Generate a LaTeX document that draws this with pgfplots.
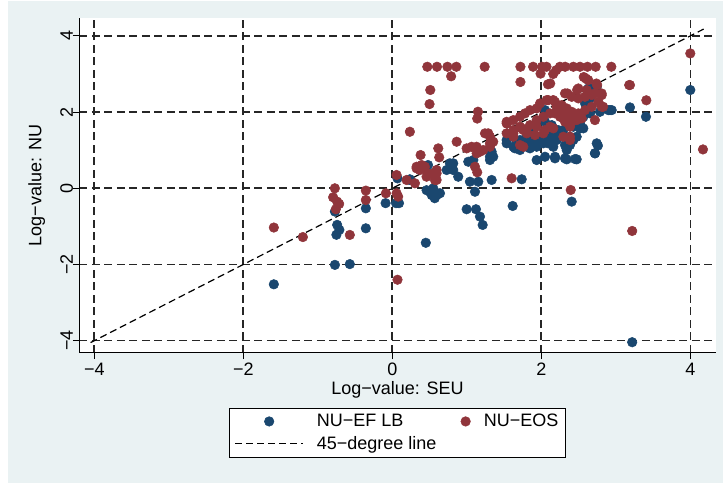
\documentclass[border=0pt]{standalone}
\usepackage{pgfplots}
\pgfplotsset{compat=1.18}
\usetikzlibrary{backgrounds,calc}
\usepackage{fontspec}
\setmainfont{Liberation Sans}
\definecolor{snavy}{RGB}{26,71,111}
\definecolor{smaroon}{RGB}{144,53,59}
\definecolor{sbg}{RGB}{234,242,243}
\pgfplotsset{
  widemark/.style={legend image code/.code={\path (0pt,-5pt) (68pt,5pt); \draw[##1] plot coordinates {(34pt,0pt)};}},
  narrowmark/.style={legend image code/.code={\path (0pt,-5pt) (10pt,5pt); \draw[##1] plot coordinates {(5pt,0pt)};}},
  wideline/.style={legend image code/.code={\draw[##1] (0pt,0pt) -- (68pt,0pt);}},
}
\begin{document}
\begin{tikzpicture}[x=1pt,y=1pt,font=\fontsize{18}{21.5}\selectfont]
\begin{axis}[
  scale only axis, width=636.4pt, height=334.4pt,
  xmin=-4.201, xmax=4.341, ymin=-4.315, ymax=4.462,
  axis background/.style={fill=white},
  axis x line*=bottom, axis y line*=left,
  axis line style={-, line width=0.8pt},
  xtick={-4,-2,0,2,4}, ytick={-4,-2,0,2,4},
  xticklabels={−4,−2,0,2,4}, yticklabels={−4,−2,0,2,4},
  tick align=outside, major tick length=6.5pt,
  tick style={black, line width=0.8pt},
  grid=major,
  major grid style={black!85, line width=1.6pt, dash pattern=on 8pt off 4.5pt},
  yticklabel style={rotate=90, anchor=base},
  xticklabel style={anchor=north},
  xlabel={Log−value: SEU}, ylabel={Log−value: NU},
  xlabel style={at={(axis description cs:0.5,-0.125)}, anchor=base},
  ylabel style={at={(axis description cs:-0.0594,0.5)}, anchor=base},
  legend columns=2,
  legend cell align=left,
  legend style={at={(axis description cs:0.5,-0.1654)}, anchor=north,
    draw=black, line width=0.8pt, fill=white, inner ysep=4pt, inner xsep=5pt,
    /tikz/row sep=4pt,
    /tikz/every odd column/.append style={column sep=11pt},
    /tikz/every even column/.append style={column sep=22pt}},
]
\addplot[only marks, mark=*, mark size=4.8pt, color=snavy, line width=0.5pt, widemark]
coordinates {
(-1.59,-2.52) (-0.77,-2.01) (-0.57,-1.99) (-0.75,-1.22) (-0.71,-1.09) (-0.74,-0.96)
(-0.77,-0.61) (-0.355,-0.525) (-0.355,-1.05) (-0.09,-0.39) (0.05,-0.39) (0.09,-0.39)
(0.45,-1.43) (0.07,0.26) (0.236,0.236) (0.23,0.22) (0.46,-0.05) (0.505,-0.09)
(0.55,-0.13) (0.595,-0.18) (0.57,-0.26) (0.64,-0.13) (0.53,-0.18) (0.6,-0.13)
(0.55,0.0) (0.48,0.61) (0.73,0.48) (0.818,0.655) (0.774,0.655) (0.818,0.48)
(0.885,0.304) (1.02,0.697) (1.042,0.173) (1.154,0.173) (1.11,-0.09) (1.334,0.218)
(1.311,0.828) (1.334,0.96) (0.998,-0.55) (1.123,-0.55) (1.177,-0.744) (1.213,-0.962)
(1.616,-0.464) (1.737,0.236) (2.408,-0.35) (1.088,0.742) (1.355,0.828) (1.311,0.742)
(1.938,0.742) (2.05,0.828) (2.184,0.786) (2.341,0.76) (2.475,0.76) (2.341,1.004)
(2.385,1.135) (2.43,1.266) (2.721,0.917) (2.744,1.18) (2.52,1.704) (2.564,1.573)
(1.535,1.18) (1.58,1.353) (1.647,1.048) (1.714,1.004) (1.804,1.09) (1.893,1.18)
(1.983,1.266) (2.072,1.353) (1.893,1.442) (1.759,1.266) (1.67,1.222) (2.072,1.528)
(2.207,1.442) (2.296,1.528) (2.341,1.704) (1.535,1.266) (1.625,1.09) (1.848,1.048)
(1.938,1.09) (2.027,1.18) (2.117,1.266) (2.161,1.353) (2.207,1.266) (1.938,1.353)
(1.848,1.31) (1.804,1.18) (1.714,1.266) (2.161,1.09) (2.43,1.615) (2.52,1.659)
(2.565,1.877) (2.654,1.966) (2.788,2.008) (2.922,2.052) (3.19,2.123) (3.405,1.877)
(2.475,1.353) (2.654,2.621) (2.744,2.663) (2.631,2.62) (2.677,2.533) (2.587,2.228)
(2.654,2.36) (2.9,2.052) (2.945,2.052) (2.497,1.659) (2.52,1.573) (2.14,1.31)
(2.228,1.397) (2.094,1.18) (2.318,1.135) (2.385,1.353) (2.341,1.048) (2.453,0.768)
(2.318,0.786) (2.184,0.828) (2.05,2.052) (2.05,1.746) (2.14,1.659) (2.094,1.484)
(2.228,1.528) (4.0,2.58) (3.22,-4.04) (2.76,1.12) (2.72,0.92)
};
\addlegendentry{NU−EF LB}
\addplot[only marks, mark=*, mark size=4.8pt, color=smaroon, line width=0.5pt, narrowmark]
coordinates {
(-1.59,-1.03) (-1.2,-1.28) (-0.771,0.0) (-0.794,-0.236) (-0.74,-0.35) (-0.713,-0.41)
(-0.758,-0.55) (-0.57,-1.224) (-0.355,-0.06) (-0.355,-0.307) (-0.086,-0.131) (0.058,0.349)
(0.058,-0.131) (0.079,-0.22) (0.07,-2.4) (0.236,1.484) (0.38,0.873) (0.617,1.048)
(0.63,0.812) (0.864,1.222) (0.998,1.048) (1.065,1.09) (1.177,0.96) (1.132,0.917)
(1.311,1.18) (1.288,1.442) (1.11,0.566) (1.14,0.42) (0.326,0.566) (0.371,0.48)
(0.438,0.566) (0.482,0.393) (0.549,0.393) (0.572,0.218) (0.595,0.48) (0.304,0.131)
(0.192,0.218) (0.326,0.524) (0.394,0.611) (0.46,0.304) (0.595,0.218) (0.595,0.393)
(1.602,0.262) (2.395,-0.045) (2.385,1.353) (1.535,1.704) (1.625,1.442) (1.737,1.573)
(1.804,1.484) (1.938,1.615) (2.027,1.442) (2.117,1.615) (1.714,1.135) (0.5,2.21)
(0.51,2.58) (0.47,3.19) (0.6,3.19) (0.74,3.19) (0.86,3.19) (0.79,2.94)
(1.24,3.19) (1.15,2.01) (1.14,1.83) (1.72,3.19) (1.72,2.79) (1.89,3.19)
(2.01,3.19) (2.07,3.19) (2.25,3.19) (2.32,3.19) (2.43,3.19) (2.52,3.19)
(2.62,3.19) (2.73,3.19) (2.94,3.19) (1.99,3.01) (2.16,3.0) (2.2,3.1)
(2.12,2.75) (2.57,2.92) (2.63,2.84) (2.74,2.75) (3.19,2.71) (3.41,2.31)
(2.35,2.49) (2.48,2.58) (2.81,2.49) (2.83,2.14) (2.72,1.79) (2.497,2.62)
(2.61,2.577) (2.721,2.49) (2.811,2.446) (2.318,2.49) (2.408,2.401) (2.497,2.36)
(2.587,2.401) (2.677,2.446) (2.094,2.315) (2.184,2.27) (2.274,2.183) (2.341,2.097)
(2.408,2.008) (2.497,1.966) (2.587,2.052) (2.677,2.139) (2.766,2.27) (2.811,2.139)
(2.184,1.966) (2.274,1.877) (2.363,1.921) (2.475,1.921) (2.543,1.835) (2.318,1.746)
(2.408,1.746) (1.535,1.746) (1.625,1.79) (1.714,1.877) (1.781,1.966) (1.848,2.052)
(1.938,2.097) (1.983,2.228) (2.072,2.315) (2.161,2.315) (2.207,2.139) (2.117,1.966)
(2.027,1.877) (1.938,1.79) (1.848,1.659) (1.759,1.528) (1.625,1.528) (1.714,1.615)
(1.804,1.442) (1.915,1.397) (2.05,1.528) (2.161,1.573) (2.251,1.877) (2.296,2.008)
(2.385,1.966) (2.475,1.79) (2.385,1.615) (2.296,1.353) (2.385,1.266) (1.759,1.09)
(1.625,1.353) (1.535,1.442) (1.311,1.353) (1.244,1.442) (1.132,1.09) (1.221,1.004)
(1.311,1.09) (1.355,1.222) (1.54,1.7) (4.0,3.54) (4.17,1.02) (3.22,-1.12)
(3.18,2.71) (2.75,2.71) (2.6,2.88) (2.09,2.73)
};
\addlegendentry{NU−EOS}
\addplot[black, line width=1.2pt, dash pattern=on 7pt off 4pt, wideline]
coordinates {(-4.05,-4.05) (4.18,4.18)};
\addlegendentry{45−degree line}
\coordinate (O) at (rel axis cs:0,0);
\end{axis}
\pgfresetboundingbox
\path[use as bounding box] ($(O)+(-79.3,-131.3)$) rectangle ++(723,484);
\begin{scope}[on background layer]
\fill[white] ($(O)+(-79.3,-131.3)$) rectangle ++(723,484);
\fill[sbg] ($(O)+(-71.3,-130.3)$) rectangle ++(715,482);
\end{scope}
\end{tikzpicture}
\end{document}
